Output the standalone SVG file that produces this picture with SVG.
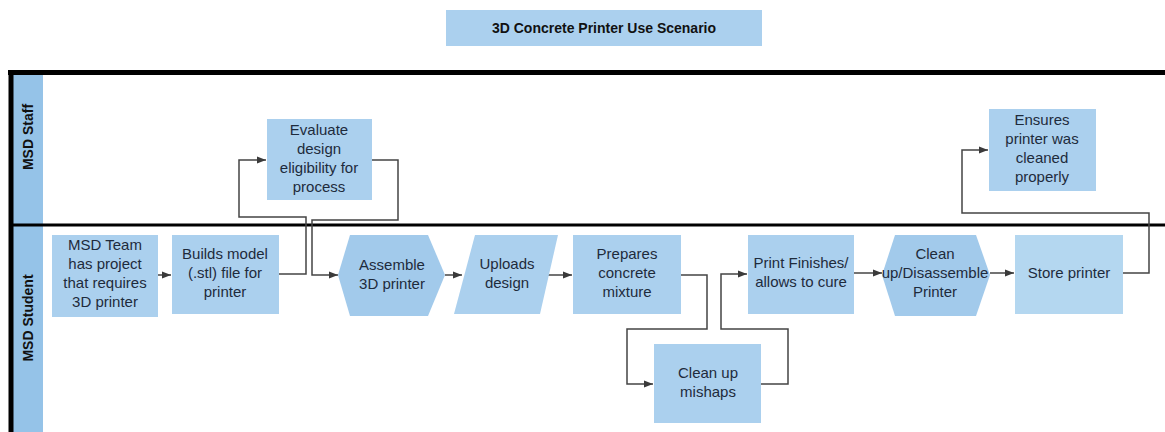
<svg xmlns="http://www.w3.org/2000/svg" width="1165" height="432" viewBox="0 0 1165 432">
<defs>
<marker id="ah" viewBox="0 0 10 10" refX="10" refY="5" markerWidth="9" markerHeight="9" markerUnits="userSpaceOnUse" orient="auto">
<path d="M0,1 L10,5 L0,9 z" fill="#3a3a3a"/>
</marker>
<style>
.n{fill:#abd0ee}
.h{fill:#a2caeb}
.t{font-family:"Liberation Sans",Arial,sans-serif;font-size:15px;fill:#1e2b3c;text-anchor:middle}
.lb{font-family:"Liberation Sans",Arial,sans-serif;font-size:14px;font-weight:bold;fill:#111;text-anchor:middle}
.c{fill:none;stroke:#444;stroke-width:1.5}
</style>
</defs>
<rect width="1165" height="432" fill="#fff"/>
<g id="title">
<rect x="446" y="10" width="316" height="36" class="n"/>
<text x="604" y="33" class="lb">3D Concrete Printer Use Scenario</text>
</g>
<g id="lanes">
<rect x="13" y="75" width="30" height="150" fill="#95c3e8"/>
<rect x="13" y="226" width="30" height="206" fill="#95c3e8"/>
<text class="lb" transform="translate(33,137) rotate(-90)">MSD Staff</text>
<text class="lb" transform="translate(33,318) rotate(-90)">MSD Student</text>
<line x1="8" y1="72.5" x2="1165" y2="72.5" stroke="#000" stroke-width="5"/>
<line x1="11" y1="70" x2="11" y2="432" stroke="#000" stroke-width="5"/>
<line x1="13" y1="225" x2="1165" y2="225" stroke="#000" stroke-width="3"/>
</g>
<g id="connectors">
<path class="c" d="M158,275 H171" marker-end="url(#ah)"/>
<path class="c" d="M279,274 H306 V217 H239 V160 H266" marker-end="url(#ah)"/>
<path class="c" d="M372,160 H398 V220 H312 V275 H338" marker-end="url(#ah)"/>
<path class="c" d="M445,275 H462" marker-end="url(#ah)"/>
<path class="c" d="M548,275 H572" marker-end="url(#ah)"/>
<path class="c" d="M681,275 H707 V329 H627 V384 H653" marker-end="url(#ah)"/>
<path class="c" d="M761,384 H788 V329 H721 V274 H747" marker-end="url(#ah)"/>
<path class="c" d="M854,273 H882" marker-end="url(#ah)"/>
<path class="c" d="M990,273 H1014" marker-end="url(#ah)"/>
<path class="c" d="M1123,273 H1149 V213 H962 V150 H988" marker-end="url(#ah)"/>
</g>
<g id="evaluate">
<rect x="267" y="119" width="105" height="81" class="n"/>
<text class="t" x="319" y="135">Evaluate</text>
<text class="t" x="319" y="154">design</text>
<text class="t" x="319" y="173">eligibility for</text>
<text class="t" x="319" y="192">process</text>
</g>
<g id="ensures">
<rect x="989" y="109" width="107" height="82" class="n"/>
<text class="t" x="1042" y="125">Ensures</text>
<text class="t" x="1042" y="144">printer was</text>
<text class="t" x="1042" y="163">cleaned</text>
<text class="t" x="1042" y="182">properly</text>
</g>
<g id="msdteam">
<rect x="52" y="235" width="106" height="82" class="n"/>
<text class="t" x="105" y="250">MSD Team</text>
<text class="t" x="105" y="269">has project</text>
<text class="t" x="105" y="288">that requires</text>
<text class="t" x="105" y="307">3D printer</text>
</g>
<g id="builds">
<rect x="172" y="235" width="107" height="79" class="n"/>
<text class="t" x="225" y="259">Builds model</text>
<text class="t" x="225" y="278">(.stl) file for</text>
<text class="t" x="225" y="297">printer</text>
</g>
<g id="assemble">
<polygon points="350,235 428,235 445,275 428,316 350,316 338,275" class="h"/>
<text class="t" x="392" y="270">Assemble</text>
<text class="t" x="392" y="289">3D printer</text>
</g>
<g id="uploads">
<polygon points="475,235 558,235 540,314 454,314" class="n"/>
<text class="t" x="507" y="269">Uploads</text>
<text class="t" x="507" y="288">design</text>
</g>
<g id="prepares">
<rect x="573" y="235" width="108" height="79" class="n"/>
<text class="t" x="627" y="259">Prepares</text>
<text class="t" x="627" y="278">concrete</text>
<text class="t" x="627" y="297">mixture</text>
</g>
<g id="mishaps">
<rect x="654" y="344" width="107" height="79" class="n"/>
<text class="t" x="708" y="378">Clean up</text>
<text class="t" x="708" y="397">mishaps</text>
</g>
<g id="printfinishes">
<rect x="748" y="235" width="106" height="79" class="n"/>
<text class="t" x="801" y="268">Print Finishes/</text>
<text class="t" x="801" y="287">allows to cure</text>
</g>
<g id="cleanup">
<polygon points="895,235 976,235 990,275 976,316 895,316 882,275" class="h"/>
<text class="t" x="935" y="259">Clean</text>
<text class="t" x="935" y="278">up/Disassemble</text>
<text class="t" x="935" y="297">Printer</text>
</g>
<g id="store">
<rect x="1015" y="235" width="108" height="79" fill="#b4d7f0"/>
<text class="t" x="1069" y="278">Store printer</text>
</g>
</svg>
